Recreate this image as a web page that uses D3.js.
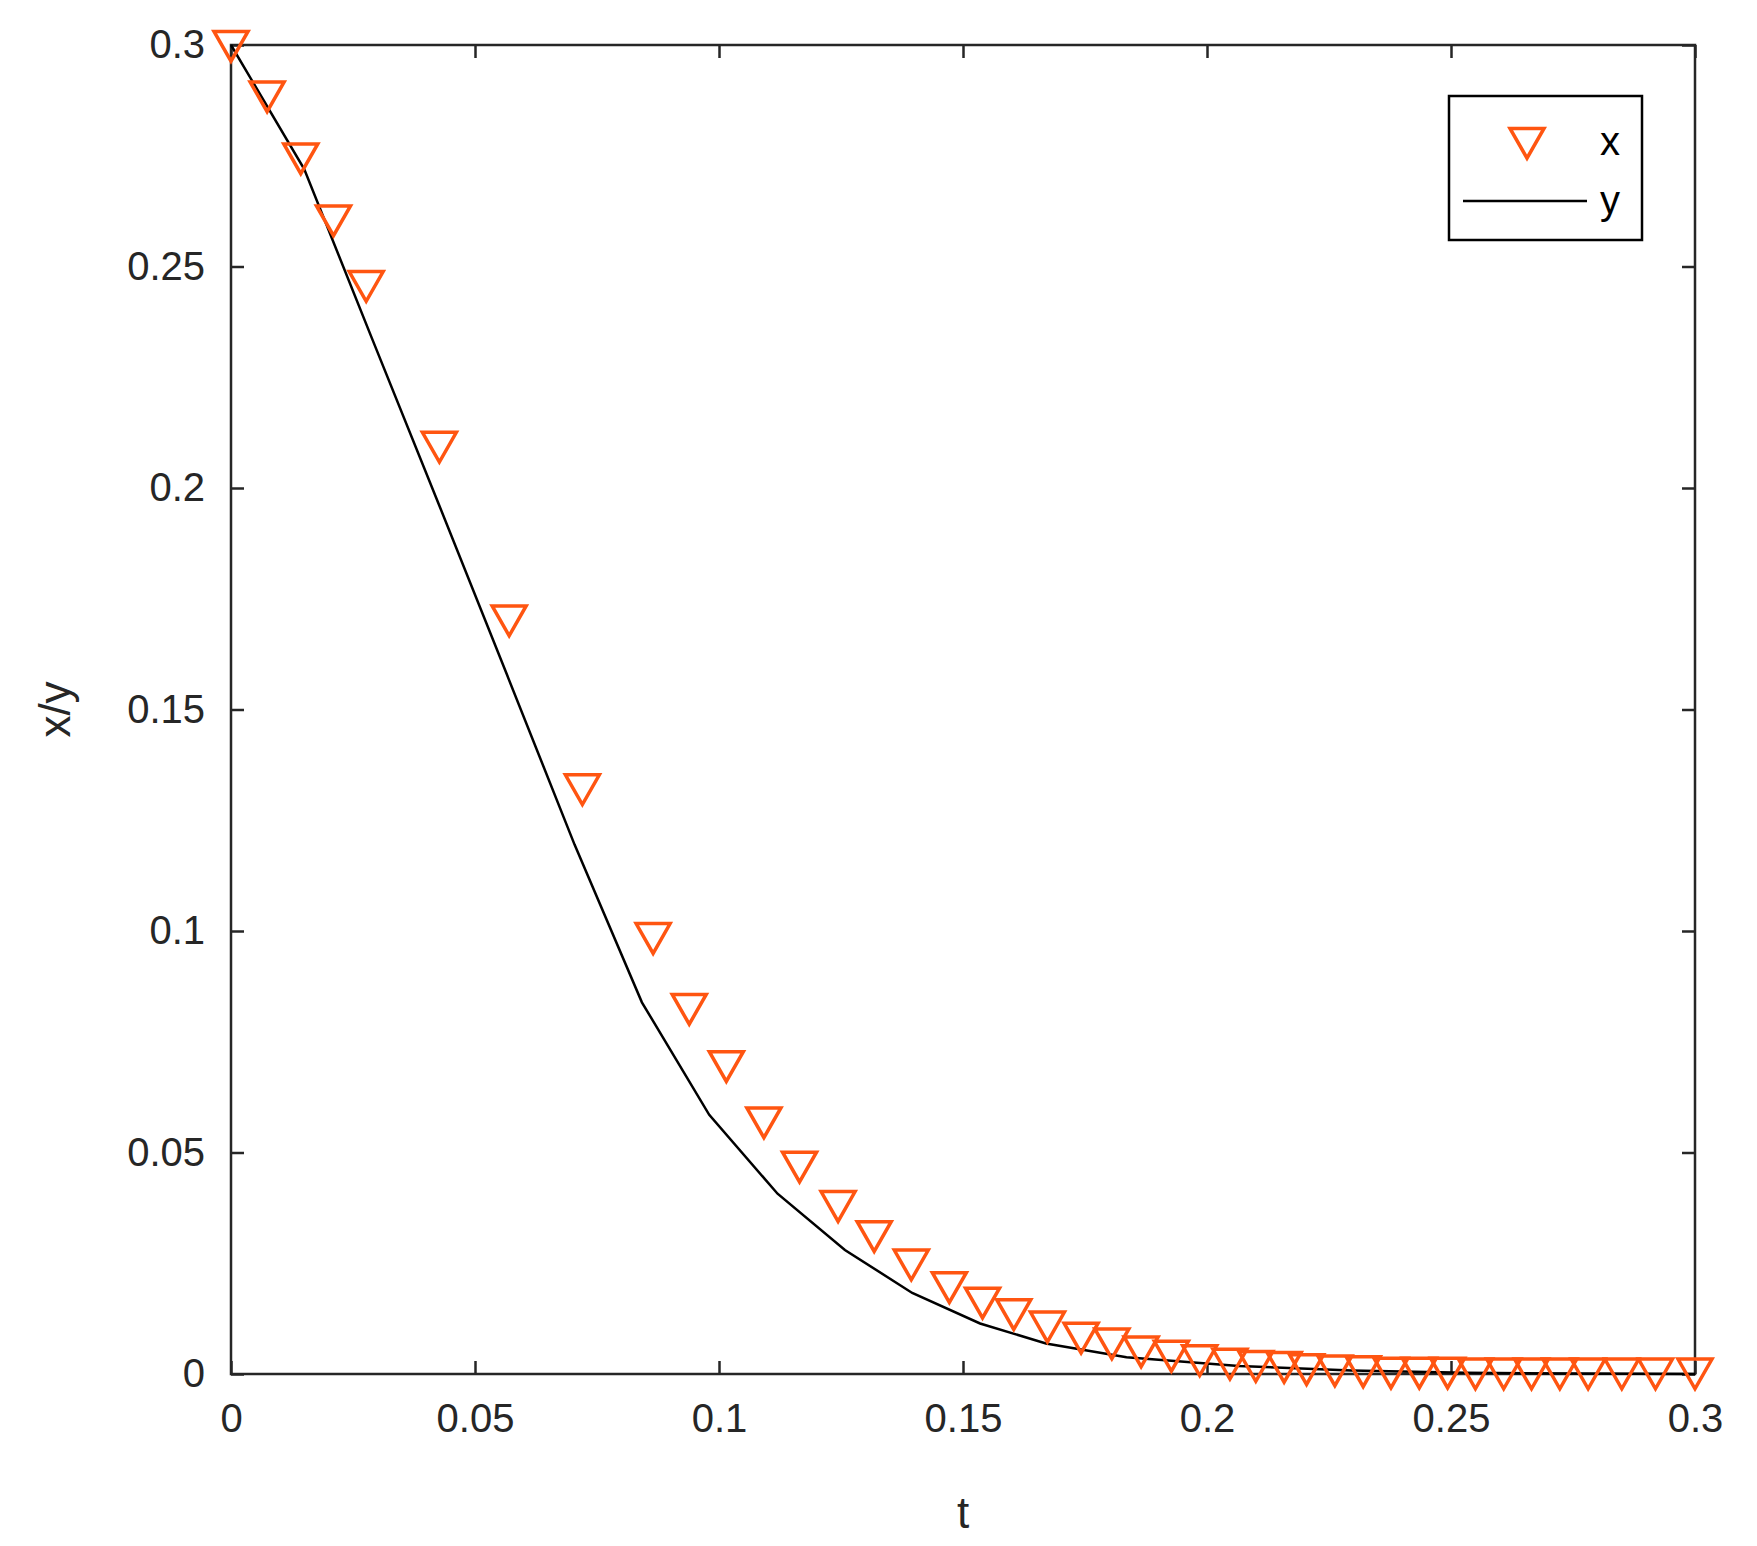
<!DOCTYPE html>
<html><head><meta charset="utf-8">
<script src="https://cdn.jsdelivr.net/npm/d3@7"></script>
<style>body{margin:0;background:#fff}svg{font-family:"Liberation Sans",Arial,sans-serif}</style>
</head><body><div id="wrapper"></div>
<script>
const xT = [0,0.0074,0.0143,0.021,0.0277,0.0427,0.057,0.072,0.0865,0.0939,0.1015,0.1092,0.1165,0.1244,0.1318,0.1394,0.1472,0.154,0.1604,0.1673,0.1742,0.1805,0.1865,0.1927,0.1985,0.2047,0.21,0.2158,0.2204,0.2262,0.232,0.2377,0.2435,0.2493,0.255,0.2608,0.2665,0.2723,0.2781,0.285,0.2919,0.3];
const xV = [0.3,0.2886,0.2746,0.2606,0.2458,0.2095,0.1703,0.1322,0.0986,0.0826,0.0697,0.057,0.047,0.0381,0.0313,0.0249,0.0198,0.0163,0.0137,0.0109,0.0084,0.0071,0.0053,0.0043,0.0033,0.0025,0.002,0.0018,0.0013,0.001,0.0008,0.0005,0.0005,0.0005,0.0003,0.0003,0.0003,0.0003,0.0003,0.0003,0.0003,0.0003];
const yT = [0,0.015,0.0288,0.0427,0.0565,0.0704,0.0842,0.098,0.112,0.1258,0.1396,0.1535,0.167,0.1835,0.2065,0.2296,0.253,0.2758,0.3];
const yV = [0.3,0.272,0.234,0.196,0.158,0.1195,0.0839,0.0585,0.0407,0.028,0.0183,0.0114,0.0069,0.0038,0.0018,0.0008,0.0003,0.0001,0];
const ticks = [0,0.05,0.1,0.15,0.2,0.25,0.3];

const width = 1757, height = 1546;
const m = {left: 231, right: 1695, top: 45, bottom: 1374};
const svg = d3.select("#wrapper").append("svg").attr("width", width).attr("height", height);
const x = d3.scaleLinear().domain([0, 0.3]).range([m.left, m.right]);
const y = d3.scaleLinear().domain([0, 0.3]).range([m.bottom, m.top]);
const fmt = d => d === 0 ? "0" : String(+d.toFixed(2));

const axStyle = g => {
  g.select(".domain").remove();
  g.selectAll("line").attr("stroke", "#262626").attr("stroke-width", 2.5);
  g.selectAll("text").attr("font-size", 40).attr("fill", "#262626");
};
svg.append("g").attr("transform", `translate(0,${m.bottom})`)
  .call(d3.axisBottom(x).tickValues(ticks).tickFormat(fmt).tickSizeInner(-13).tickPadding(30)).call(axStyle);
svg.append("g").attr("transform", `translate(0,${m.top})`)
  .call(d3.axisTop(x).tickValues(ticks).tickFormat("").tickSizeInner(-13)).call(axStyle);
svg.append("g").attr("transform", `translate(${m.left},0)`)
  .call(d3.axisLeft(y).tickValues(ticks).tickFormat(fmt).tickSizeInner(-13).tickPadding(26)).call(axStyle);
svg.append("g").attr("transform", `translate(${m.right},0)`)
  .call(d3.axisRight(y).tickValues(ticks).tickFormat("").tickSizeInner(-13)).call(axStyle);
svg.append("rect").attr("x", m.left).attr("y", m.top).attr("width", m.right - m.left).attr("height", m.bottom - m.top)
  .attr("fill", "none").attr("stroke", "#262626").attr("stroke-width", 2.5);

const line = d3.line().x((d, i) => x(yT[i])).y(d => y(d));
svg.append("path").datum(yV).attr("d", line).attr("fill", "none").attr("stroke", "#000").attr("stroke-width", 2.5);

const orange = "#FF5511";
const tri = (cx, cy, s) => `M${cx - s},${cy - s * 0.8}L${cx + s},${cy - s * 0.8}L${cx},${cy + s * 0.95}Z`;
svg.append("g").selectAll("path").data(xV).join("path")
  .attr("d", (d, i) => tri(x(xT[i]), y(d), 17))
  .attr("fill", "none").attr("stroke", orange).attr("stroke-width", 3.5).attr("stroke-linejoin", "miter");

// legend
const lg = svg.append("g");
lg.append("rect").attr("x", 1449).attr("y", 96).attr("width", 193).attr("height", 144)
  .attr("fill", "#fff").attr("stroke", "#000").attr("stroke-width", 2.5);
lg.append("path").attr("d", tri(1527, 142, 17)).attr("fill", "none").attr("stroke", orange).attr("stroke-width", 3.5);
lg.append("line").attr("x1", 1463).attr("x2", 1587).attr("y1", 201).attr("y2", 201).attr("stroke", "#000").attr("stroke-width", 2.5);
lg.append("text").attr("x", 1600).attr("y", 155).attr("font-size", 40).attr("fill", "#000").text("x");
lg.append("text").attr("x", 1600).attr("y", 214).attr("font-size", 40).attr("fill", "#000").text("y");

svg.append("text").attr("x", x(0.15)).attr("y", 1528).attr("text-anchor", "middle").attr("font-size", 44).attr("fill", "#262626").text("t");
svg.append("text").attr("transform", `translate(70,${y(0.15)}) rotate(-90)`).attr("text-anchor", "middle")
  .attr("font-size", 44).attr("fill", "#262626").text("x/y");
</script></body></html>
